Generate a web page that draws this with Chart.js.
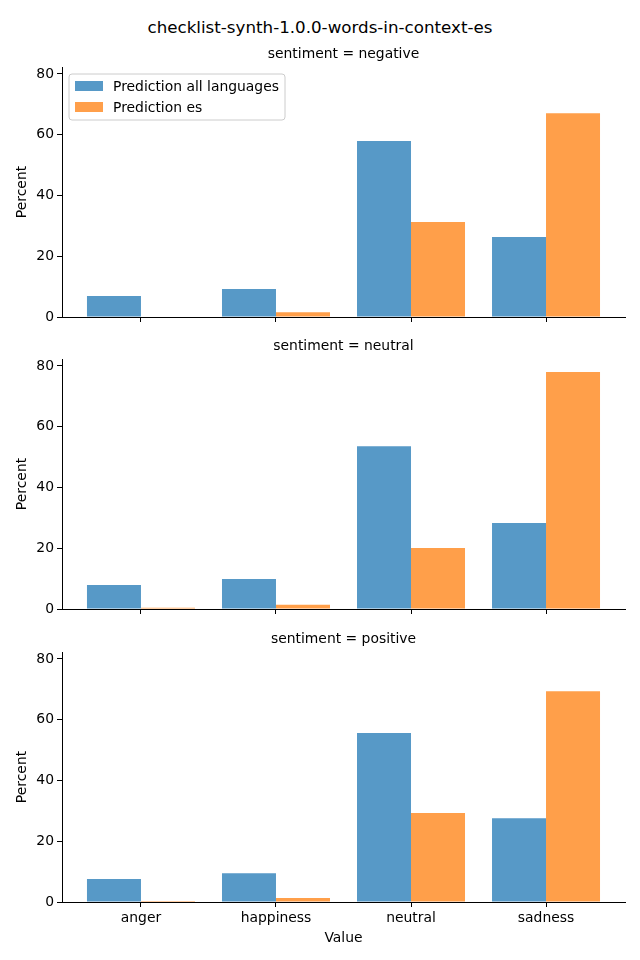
<!DOCTYPE html>
<html>
<head>
<meta charset="utf-8">
<script src="https://cdn.jsdelivr.net/npm/chart.js@4/dist/chart.umd.min.js"></script>
<style>
  html, body { margin: 0; padding: 0; background: #fff; }
  #wrap { position: relative; width: 640px; height: 960px; font-family: "DejaVu Sans", sans-serif; }
  #title { position: absolute; left: 0; top: 16px; width: 640px; text-align: center; font-size: 16.7px; color: #000; line-height: 22px; }
  .box { position: absolute; left: 0; width: 640px; }
</style>
</head>
<body>
<div id="wrap">
  <div id="title">checklist-synth-1.0.0-words-in-context-es</div>
  <div class="box" style="top:0px;height:330px"><canvas id="c0"></canvas></div>
  <div class="box" style="top:330px;height:292px"><canvas id="c1"></canvas></div>
  <div class="box" style="top:622px;height:338px"><canvas id="c2"></canvas></div>
</div>
<script>
// ---- data ----
const categories = ["anger", "happiness", "neutral", "sadness"];
const seriesNames = ["Prediction all languages", "Prediction es"];
const panelTitles = ["sentiment = negative", "sentiment = neutral", "sentiment = positive"];
const negativeAll = [6.9, 9.2, 57.9, 26.3];
const negativeEs  = [0.0, 1.6, 31.3, 67.1];
const neutralAll  = [7.9, 9.9, 53.6, 28.3];
const neutralEs   = [0.4, 1.4, 20.1, 78.0];
const positiveAll = [7.6, 9.5, 55.6, 27.6];
const positiveEs  = [0.3, 1.3, 29.3, 69.4];
const yTicks = [0, 20, 40, 60, 80];

const panels = [
  { all: negativeAll, es: negativeEs },
  { all: neutralAll,  es: neutralEs },
  { all: positiveAll, es: positiveEs }
];

const colors = ["rgba(31,119,180,0.75)", "rgba(255,127,14,0.75)"];
const FONT = "DejaVu Sans";
const FS = 13.9;

// layout per panel: padding top, x-axis height, bottom padding
const layouts = [
  { padTop: 67, xH: 13, padBottom: 0, last: false, legend: true },
  { padTop: 29, xH: 13, padBottom: 0, last: false, legend: false },
  { padTop: 30, xH: 45, padBottom: 13, last: true,  legend: false }
];

const subtitlePlugin = {
  id: 'subtitleText',
  afterDraw(chart, args, opts) {
    const ctx = chart.ctx, a = chart.chartArea;
    ctx.save();
    ctx.font = FS + "px '" + FONT + "'";
    ctx.fillStyle = "#000";
    ctx.textAlign = "center";
    ctx.textBaseline = "middle";
    ctx.fillText(opts.text, (a.left + a.right) / 2, a.top - 12.5);
    ctx.restore();
  }
};

const boxLegendPlugin = {
  id: 'boxLegend',
  afterDraw(chart, args, opts) {
    if (!opts.show) return;
    const ctx = chart.ctx, a = chart.chartArea;
    const x = a.left + 7, y = a.top + 7, w = 216, h = 46, r = 3;
    ctx.save();
    ctx.beginPath();
    ctx.moveTo(x + r, y);
    ctx.arcTo(x + w, y, x + w, y + h, r);
    ctx.arcTo(x + w, y + h, x, y + h, r);
    ctx.arcTo(x, y + h, x, y, r);
    ctx.arcTo(x, y, x + w, y, r);
    ctx.closePath();
    ctx.fillStyle = "rgba(255,255,255,0.8)";
    ctx.fill();
    ctx.strokeStyle = "#cccccc";
    ctx.lineWidth = 1;
    ctx.stroke();
    ctx.font = FS + "px '" + FONT + "'";
    ctx.textBaseline = "middle";
    ctx.textAlign = "left";
    chart.data.datasets.forEach((ds, i) => {
      const cy = y + 12 + i * 21;
      ctx.fillStyle = ds.backgroundColor;
      ctx.fillRect(x + 6, cy - 5, 28, 10);
      ctx.fillStyle = "#000";
      ctx.fillText(ds.label, x + 44, cy + 1);
    });
    ctx.restore();
  }
};

panels.forEach((p, k) => {
  const L = layouts[k];
  const series = [p.all, p.es];
  new Chart(document.getElementById('c' + k), {
    type: 'bar',
    data: {
      datasets: series.map((vals, i) => ({
        label: seriesNames[i],
        data: vals.map((v, j) => ({ x: j, y: v })),
        backgroundColor: colors[i],
        borderWidth: 0,
        borderSkipped: false,
        inflateAmount: 0,
        categoryPercentage: 0.8,
        barPercentage: 1.0,
        grouped: true
      }))
    },
    plugins: [subtitlePlugin, boxLegendPlugin],
    options: {
      responsive: true,
      maintainAspectRatio: false,
      animation: false,
      devicePixelRatio: 1,
      layout: { padding: { top: L.padTop, right: 15, left: 0, bottom: L.padBottom } },
      plugins: {
        legend: { display: false },
        tooltip: { enabled: false },
        title: { display: false },
        subtitleText: { text: panelTitles[k] },
        boxLegend: { show: L.legend }
      },
      scales: {
        x: {
          type: 'linear',
          offset: false,
          min: -0.585,
          max: 3.585,
          afterBuildTicks(scale) {
            scale.ticks = categories.map((c, j) => ({ value: j }));
          },
          afterFit(scale) { scale.height = L.xH; },
          ticks: {
            display: L.last,
            autoSkip: false,
            maxRotation: 0,
            padding: 3,
            color: "#000",
            font: { family: FONT, size: FS },
            callback: (v) => categories[v] !== undefined ? categories[v] : ''
          },
          grid: {
            display: true,
            offset: false,
            drawOnChartArea: false,
            drawTicks: true,
            tickLength: 5,
            color: "#000",
            lineWidth: 1
          },
          border: { display: true, color: "#000", width: 1 },
          title: {
            display: L.last,
            text: "Value",
            color: "#000",
            font: { family: FONT, size: FS },
            padding: { top: 2, bottom: 0 }
          }
        },
        y: {
          min: 0,
          max: 82.3,
          afterBuildTicks(scale) {
            scale.ticks = yTicks.map(v => ({ value: v }));
          },
          afterFit(scale) { scale.width = 62; },
          ticks: {
            padding: 3,
            color: "#000",
            font: { family: FONT, size: FS }
          },
          grid: {
            display: true,
            drawOnChartArea: false,
            drawTicks: true,
            tickLength: 5,
            color: "#000",
            lineWidth: 1
          },
          border: { display: true, color: "#000", width: 1 },
          title: {
            display: true,
            text: "Percent",
            color: "#000",
            font: { family: FONT, size: FS },
            padding: { top: 14, bottom: 4 }
          }
        }
      }
    }
  });
});
</script>
</body>
</html>
